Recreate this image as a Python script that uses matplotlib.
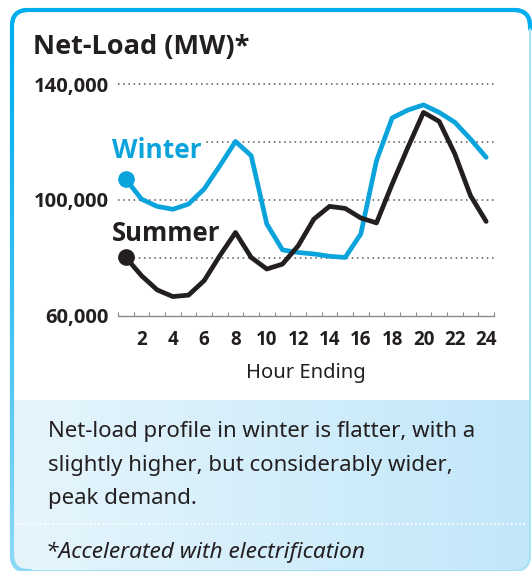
import numpy as np
import matplotlib
matplotlib.use('Agg')
import matplotlib.pyplot as plt
from matplotlib.patches import FancyBboxPatch
from matplotlib.colors import LinearSegmentedColormap, to_rgb
from matplotlib.collections import LineCollection
from matplotlib.ticker import FixedLocator, FuncFormatter

# ---------------- data ----------------
hours = list(range(1, 25))
winter = [107.2, 100.3, 97.8, 96.8, 98.6, 103.8, 111.8, 120.2, 115.3, 91.7,
          82.8, 81.9, 81.4, 80.6, 80.2, 88.3, 113.6, 128.3, 131.0, 132.8,
          130.2, 126.8, 121.0, 114.7]
summer = [80.2, 73.9, 69.0, 66.7, 67.2, 72.2, 80.8, 88.8, 80.2, 76.2,
          77.9, 84.2, 93.4, 97.8, 97.1, 93.8, 92.1, 105.5, 118.1, 130.2,
          127.1, 115.9, 101.5, 92.6]
winter_mw = [v * 1000 for v in winter]
summer_mw = [v * 1000 for v in summer]
y_ticks = [60000, 100000, 140000]
grid_levels = [80000, 100000, 120000, 140000]
x_ticks = list(range(2, 25, 2))
title = "Net-Load (MW)*"
xlabel = "Hour Ending"
body_lines = ["Net-load profile in winter is flatter, with a",
              "slightly higher, but considerably wider,",
              "peak demand."]
footnote = "*Accelerated with electrification"

WINTER_C = '#0AA3DC'
SUMMER_C = '#231F20'
BORDER_C = '#00AEEF'
BORDER_LIGHT = '#8FDAF6'
TEXT_C = '#231F20'
FONT = ['Noto Sans', 'DejaVu Sans']
BOLD = ['Open Sans', 'Roboto', 'DejaVu Sans']
plt.rcParams['font.family'] = FONT

W, H = 532, 571
fig = plt.figure(figsize=(W / 100, H / 100), dpi=100)


def fx(px):
    return px / W


def fy(py):
    return 1 - py / H


# ---------------- background box ----------------
bg = fig.add_axes([0, 0, 1, 1])
bg.set_xlim(0, W)
bg.set_ylim(H, 0)
bg.axis('off')

BX, BY, BW, BH = 12, 10, 518, 561
box = FancyBboxPatch((BX, BY), BW, BH, boxstyle='round,pad=0,rounding_size=16',
                     fc='white', ec='none', zorder=0)
bg.add_patch(box)
cmap = LinearSegmentedColormap.from_list('panel', ['#E6F5FC', '#C2E7F9'])
grad = np.linspace(0, 1, 256)[None, :]
im = bg.imshow(grad, extent=[BX, BX + BW, BY + BH, 400], aspect='auto', cmap=cmap,
               zorder=1)
im.set_clip_path(box)

# border: cyan on top, fading lighter down the left side, thin and light at right
poly = box.get_path().to_polygons(closed_only=False)[0]
pts = []
for a, b in zip(poly[:-1], poly[1:]):
    n = max(2, int(np.hypot(*(b - a)) / 3))
    for t in np.linspace(0, 1, n, endpoint=False):
        pts.append(a + (b - a) * t)
pts.append(poly[-1])
pts = np.array(pts)
segs = np.stack([pts[:-1], pts[1:]], axis=1)
c0, c1 = np.array(to_rgb(BORDER_C)), np.array(to_rgb(BORDER_LIGHT))
cols, lws = [], []
for s in segs:
    mx, my = s.mean(axis=0)
    t = np.clip((my - BY) / BH, 0, 1)
    if mx > BX + BW - 8 and my > BY + 20:
        cols.append(tuple(np.array(to_rgb('#A8E0F6'))))
        lws.append(1.4)
    elif my > BY + BH - 6 and mx > BX + 20:
        cols.append(tuple(np.array(to_rgb('#A8E0F6'))))
        lws.append(1.4)
    else:
        cols.append(tuple(c0 + (c1 - c0) * t ** 1.3))
        lws.append(3.0)
bg.add_collection(LineCollection(segs, colors=cols, linewidths=lws, zorder=3,
                                 capstyle='round'))
bg.plot([15, 527], [524, 524], color='white', lw=1.2, ls=(0, (1, 1.5)), zorder=2)

fig.text(fx(33), fy(53.6), title, fontsize=19.5, fontweight='bold', family=BOLD,
         color=TEXT_C, ha='left', va='baseline')

for i, line in enumerate(body_lines):
    fig.text(fx(47.5), fy(437 + i * 33.5), line, fontsize=16, color=TEXT_C,
             ha='left', va='baseline')
fig.text(fx(46), fy(558), footnote, fontsize=16.3, style='italic', color=TEXT_C,
         ha='left', va='baseline')

# ---------------- chart ----------------
y_top_px = 316 - (141000 - 60000) * 116 / 40000
ax = fig.add_axes([fx(118), fy(316), (494 - 118) / W, (316 - y_top_px) / H])
ax.set_facecolor('none')
ax.set_xlim(0.5, 24.5)
ax.set_ylim(60000, 141000)

for s in ['top', 'right', 'left']:
    ax.spines[s].set_visible(False)
ax.spines['bottom'].set_color('#8a8a8a')
ax.spines['bottom'].set_linewidth(1.0)

for g in grid_levels:
    ax.axhline(g, color='#555555', lw=1.1, ls=(0, (1, 2.4)), zorder=1)

ax.plot(hours, winter_mw, color=WINTER_C, lw=3.4, solid_joinstyle='round',
        solid_capstyle='round', zorder=3)
ax.plot(hours, summer_mw, color=SUMMER_C, lw=3.4, solid_joinstyle='round',
        solid_capstyle='round', zorder=3)
ax.plot(hours[0], winter_mw[0], 'o', color=WINTER_C, ms=11, zorder=4)
ax.plot(hours[0], summer_mw[0], 'o', color=SUMMER_C, ms=11, zorder=4)

ax.annotate('Winter', xy=(hours[0], winter_mw[0]), xytext=(-10.1, 15.1),
            textcoords='offset points', ha='left', va='baseline', fontsize=19,
            fontweight='bold', family=BOLD, color=WINTER_C, zorder=5,
            bbox=dict(boxstyle='square,pad=0.15', fc='white', ec='none'))
ax.annotate('Summer', xy=(hours[0], summer_mw[0]), xytext=(-10.1, 12.0),
            textcoords='offset points', ha='left', va='baseline', fontsize=18.5,
            fontweight='bold', family=BOLD, color=SUMMER_C, zorder=5)

ax.set_xticks(x_ticks)
ax.set_xticklabels([str(t) for t in x_ticks])
ax.xaxis.set_minor_locator(FixedLocator(np.arange(0.5, 25, 1)))
ax.tick_params(axis='x', which='major', length=0, pad=10, labelsize=13.5,
               labelcolor=TEXT_C)
ax.tick_params(axis='x', which='minor', direction='in', length=3, width=0.8,
               color='#8a8a8a')
for lab in ax.get_xticklabels():
    lab.set_fontweight('bold')
    lab.set_family(BOLD)

ax.set_yticks(y_ticks)
ax.yaxis.set_major_formatter(FuncFormatter(lambda v, p: f"{int(v):,}"))
ax.tick_params(axis='y', length=0, pad=6.5, labelsize=14.5, labelcolor=TEXT_C)
for lab in ax.get_yticklabels():
    lab.set_fontweight('bold')
    lab.set_family(BOLD)

ax.set_xlabel(xlabel, fontsize=14.5, color=TEXT_C, labelpad=9.5)

fig.savefig('out.png', dpi=100)
